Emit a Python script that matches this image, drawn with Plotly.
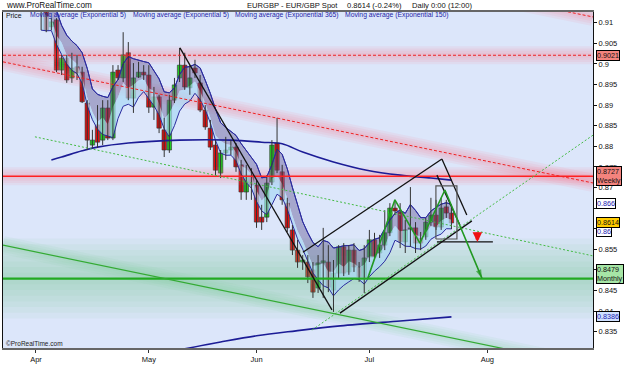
import plotly.graph_objects as go

# ---------------- data ----------------
bars = list(range(1, 82))  # trading-day index, 0 = 1 Apr
opens = [0.9140, 0.9145, 0.9090, 0.9107, 0.8985, 0.9014, 0.8966, 0.8993, 0.8980, 0.8905,
         0.8803, 0.8852, 0.8815, 0.8893, 0.8820, 0.8985, 0.8966, 0.9027, 0.8917, 0.8968,
         0.8980, 0.8973, 0.8895, 0.8920, 0.8840, 0.8791, 0.8912, 0.8966, 0.8997, 0.8942,
         0.8990, 0.8954, 0.8888, 0.8844, 0.8803, 0.8735, 0.8784, 0.8791, 0.8798, 0.8755,
         0.8689, 0.8730, 0.8706, 0.8628, 0.8628, 0.8713, 0.8808, 0.8738, 0.8662, 0.8597,
         0.8548, 0.8519, 0.8519, 0.8500, 0.8456, 0.8517, 0.8519, 0.8451, 0.8492, 0.8556,
         0.8495, 0.8548, 0.8507, 0.8483, 0.8531, 0.8573, 0.8541, 0.8560, 0.8590, 0.8650,
         0.8641, 0.8568, 0.8599, 0.8602, 0.8577, 0.8580, 0.8616, 0.8633, 0.8604, 0.8653,
         0.8638]
highs = [0.9150, 0.9155, 0.9111, 0.9111, 0.9022, 0.9022, 0.9027, 0.9022, 0.8993, 0.8912,
         0.8840, 0.8900, 0.8912, 0.8912, 0.8997, 0.8997, 0.9077, 0.9053, 0.9002, 0.9005,
         0.8997, 0.8997, 0.8944, 0.8925, 0.8869, 0.8925, 0.8966, 0.9039, 0.9027, 0.8997,
         0.9010, 0.8973, 0.8900, 0.8864, 0.8815, 0.8791, 0.8823, 0.8815, 0.8808, 0.8767,
         0.8755, 0.8747, 0.8718, 0.8658, 0.8730, 0.8815, 0.8869, 0.8755, 0.8675, 0.8609,
         0.8573, 0.8536, 0.8536, 0.8519, 0.8536, 0.8602, 0.8560, 0.8524, 0.8560, 0.8565,
         0.8560, 0.8565, 0.8519, 0.8560, 0.8597, 0.8590, 0.8585, 0.8645, 0.8662, 0.8670,
         0.8662, 0.8621, 0.8701, 0.8616, 0.8592, 0.8626, 0.8675, 0.8670, 0.8675, 0.8670,
         0.8650]
lows = [0.9082, 0.9077, 0.9082, 0.8980, 0.8973, 0.8954, 0.8954, 0.8961, 0.8905, 0.8791,
        0.8796, 0.8796, 0.8803, 0.8815, 0.8815, 0.8961, 0.8956, 0.8912, 0.8881, 0.8966,
        0.8961, 0.8881, 0.8864, 0.8832, 0.8774, 0.8784, 0.8905, 0.8956, 0.8937, 0.8925,
        0.8966, 0.8883, 0.8840, 0.8791, 0.8730, 0.8723, 0.8767, 0.8779, 0.8738, 0.8670,
        0.8670, 0.8670, 0.8602, 0.8597, 0.8616, 0.8706, 0.8735, 0.8658, 0.8592, 0.8536,
        0.8505, 0.8500, 0.8468, 0.8432, 0.8444, 0.8432, 0.8446, 0.8398, 0.8480, 0.8485,
        0.8488, 0.8495, 0.8471, 0.8444, 0.8519, 0.8524, 0.8529, 0.8548, 0.8582, 0.8633,
        0.8553, 0.8541, 0.8556, 0.8541, 0.8548, 0.8573, 0.8607, 0.8597, 0.8597, 0.8626,
        0.8599]
closes = [0.9135, 0.9082, 0.9102, 0.8985, 0.9014, 0.8961, 0.8990, 0.8978, 0.8908, 0.8815,
          0.8815, 0.8810, 0.8893, 0.8820, 0.8980, 0.8966, 0.9022, 0.8917, 0.8966, 0.8980,
          0.8973, 0.8895, 0.8920, 0.8844, 0.8791, 0.8912, 0.8949, 0.8997, 0.8944, 0.8966,
          0.8978, 0.8888, 0.8847, 0.8798, 0.8742, 0.8784, 0.8791, 0.8798, 0.8750, 0.8689,
          0.8730, 0.8706, 0.8616, 0.8616, 0.8711, 0.8803, 0.8742, 0.8670, 0.8602, 0.8548,
          0.8519, 0.8524, 0.8483, 0.8446, 0.8517, 0.8522, 0.8458, 0.8492, 0.8556, 0.8492,
          0.8548, 0.8507, 0.8483, 0.8529, 0.8573, 0.8531, 0.8560, 0.8590, 0.8650, 0.8643,
          0.8568, 0.8597, 0.8602, 0.8565, 0.8565, 0.8616, 0.8633, 0.8604, 0.8650, 0.8638,
          0.8614]

month_ticks = [0, 22, 43, 65, 88]
month_labels = ["Apr", "May", "Jun", "Jul", "Aug"]
price_ticks = [0.835, 0.84, 0.845, 0.85, 0.855, 0.86, 0.865, 0.87, 0.875,
               0.88, 0.885, 0.89, 0.895, 0.9, 0.905, 0.91]
# 0.865 and 0.86 are hidden behind the value boxes in the reference
price_tick_text = ["0.835", "0.84", "0.845", "0.85", "0.855", "", "", "0.87", "0.875",
                   "0.88", "0.885", "0.89", "0.895", "0.9", "0.905", "0.91"]

ema150_x = [3, 5, 9, 12, 18, 28, 38, 44, 48, 52, 58, 64.5, 71, 77, 81]
ema150_y = [0.8767, 0.8774, 0.8789, 0.8798, 0.8808, 0.8815, 0.8815, 0.8810, 0.8806,
            0.8786, 0.8762, 0.8742, 0.8730, 0.8723, 0.8718]
ema365_x = [28, 36, 43, 50.7, 59.3, 71, 81]
ema365_y = [0.8306, 0.8325, 0.8340, 0.8352, 0.8364, 0.8376, 0.8386]

top_level = 0.9021
weekly_level = 0.8727
monthly_level = 0.8479

red_diag_x, red_diag_y = [-6.43, 108.6], [0.9005, 0.8711]
red_top_x, red_top_y = [86.5, 108.6], [0.9170, 0.9114]
green_dot_down_x, green_dot_down_y = [-0.2, 108.6], [0.8823, 0.8534]
green_solid_x, green_solid_y = [-6.43, 108.6], [0.8560, 0.8264]
green_dot_up_x, green_dot_up_y = [53.8, 108.6], [0.8354, 0.8827]

black_a_x, black_a_y = [28.07, 57.7], [0.9039, 0.8403]
chan_low_x, chan_low_y = [59.26, 84.99], [0.8395, 0.8619]
chan_up_x, chan_up_y = [52.05, 79.14], [0.8543, 0.8769]
flag1_x, flag1_y = [79.14, 84.0], [0.8769, 0.8633]
flag2_x, flag2_y = [78.17, 82.65], [0.8730, 0.8609]
rect_x, rect_y = [77.97, 82.07], [0.8575, 0.8704]
neck_x, neck_y = [78.17, 89.08], [0.8568, 0.8568]
zig_x = [64.7, 69.98, 74.85, 79.73, 86.94]
zig_y = [0.8480, 0.8670, 0.8565, 0.8694, 0.8480]
red_arrow_x, red_arrow_tip = 86.06, 0.8568

XR = [-6.43, 108.6]
YR = [0.83104, 0.91260]


def ema(values, n=5):
    k = 2 / (n + 1)
    out = [values[0]]
    for v in values[1:]:
        out.append(out[-1] + k * (v - out[-1]))
    return out


ema_hi = ema(highs)
ema_cl = ema(closes)
ema_lo = ema(lows)

fig = go.Figure()


def line(xs, ys, color, width, dash=None, shape="linear"):
    fig.add_trace(go.Scatter(x=xs, y=ys, mode="lines", hoverinfo="skip", showlegend=False,
                             line=dict(color=color, width=width, dash=dash, shape=shape)))


def glow(xs, ys, rgb, spread, steps, alpha):
    for i in range(steps):
        w = 2 * spread * (steps - i) / steps
        line(xs, ys, f"rgba({rgb},{alpha})", w)


# glows
glow(XR, [monthly_level] * 2, "110,200,140", 40, 7, 0.07)
glow(green_solid_x, green_solid_y, "110,200,140", 9, 4, 0.08)
glow(XR, [top_level] * 2, "255,110,130", 9, 4, 0.09)
glow(XR, [weekly_level] * 2, "255,110,130", 9, 4, 0.09)
glow(red_diag_x, red_diag_y, "255,110,130", 9, 4, 0.09)
glow(red_top_x, red_top_y, "255,110,130", 9, 4, 0.09)

# EMA 5 band
line(bars, ema_hi, "#2b2b9e", 1)
fig.add_trace(go.Scatter(x=bars, y=ema_cl, mode="lines", hoverinfo="skip", showlegend=False,
                         line=dict(width=0, color="rgba(0,0,0,0)"), fill="tonexty",
                         fillcolor="rgba(100,90,150,0.45)"))
fig.add_trace(go.Scatter(x=bars, y=ema_lo, mode="lines", hoverinfo="skip", showlegend=False,
                         line=dict(width=1, color="#2b2b9e"), fill="tonexty",
                         fillcolor="rgba(170,215,245,0.7)"))
line(bars, ema_hi, "#2b2b9e", 1)

# long EMAs
line(ema150_x, ema150_y, "#1c1c96", 1.6, shape="spline")
line(ema365_x, ema365_y, "#1c1c96", 1.6, shape="spline")

# candles: wicks + bodies
wick_x, wick_y = [], []
for b, h, l in zip(bars, highs, lows):
    wick_x += [b, b, None]
    wick_y += [l, h, None]
fig.add_trace(go.Scatter(x=wick_x, y=wick_y, mode="lines", hoverinfo="skip", showlegend=False,
                         line=dict(color="#333333", width=1)))
body_base = [min(o, c) for o, c in zip(opens, closes)]
body_h = [max(abs(c - o), 0.00006) for o, c in zip(opens, closes)]
body_col = ["#22cc22" if c >= o else "#e01010" for o, c in zip(opens, closes)]
fig.add_trace(go.Bar(x=bars, y=body_h, base=body_base, width=0.86, hoverinfo="skip",
                     showlegend=False,
                     marker=dict(color=body_col, line=dict(color="#303030", width=0.6))))

# drawn levels / trend lines
line(XR, [top_level] * 2, "#ee2222", 1, dash="3px,2px")
line(XR, [weekly_level] * 2, "#ff2020", 1.5)
line(XR, [monthly_level] * 2, "#22aa22", 2.2)
line(red_diag_x, red_diag_y, "#ee2222", 1, dash="3px,2px")
line(red_top_x, red_top_y, "#ee2222", 1, dash="3px,2px")
line(green_dot_down_x, green_dot_down_y, "#44bb44", 1, dash="2px,2px")
line(green_dot_up_x, green_dot_up_y, "#44bb44", 1, dash="2px,2px")
line(green_solid_x, green_solid_y, "#33aa33", 1.2)

for xs, ys in [(black_a_x, black_a_y), (chan_low_x, chan_low_y), (chan_up_x, chan_up_y),
               (flag1_x, flag1_y), (flag2_x, flag2_y), (neck_x, neck_y)]:
    line(xs, ys, "#111111", 1.3)
line([rect_x[0], rect_x[1], rect_x[1], rect_x[0], rect_x[0]],
     [rect_y[0], rect_y[0], rect_y[1], rect_y[1], rect_y[0]], "#555555", 1.2)

# green zigzag with arrow head
line(zig_x, zig_y, "#229922", 1.6)
fig.add_trace(go.Scatter(x=zig_x[-2:], y=zig_y[-2:], mode="markers", hoverinfo="skip",
                         showlegend=False,
                         marker=dict(symbol="arrow", angleref="previous", size=[0, 9],
                                     color="#229922", line=dict(width=0))))

# red down arrow
fig.add_annotation(x=red_arrow_x, y=red_arrow_tip, xref="x", yref="y", ax=0, ay=-11,
                   showarrow=True, arrowhead=2, arrowsize=0.55, arrowwidth=3.5,
                   arrowcolor="#ee1111", text="")


def px(xp):
    return (xp - 3) / 590


def py(yp):
    return (348 - yp) / 336


FONT = "Liberation Sans, Arial, sans-serif"

# header texts
fig.add_annotation(x=px(4), y=py(5.5), xref="paper", yref="paper", text="www.ProRealTime.com",
                   showarrow=False, xanchor="left", yanchor="middle",
                   font=dict(family=FONT, size=8.2, color="#111"))
for txt, xl in [("EURGBP - EUR/GBP Spot", 245), ("0.8614 (-0.24%)", 345),
                ("Daily 0:00 (12:00)", 410)]:
    fig.add_annotation(x=px(xl), y=py(5.5), xref="paper", yref="paper", text=txt,
                       showarrow=False, xanchor="left", yanchor="middle",
                       font=dict(family=FONT, size=7.6, color="#111"))

fig.add_annotation(x=px(4), y=py(15.5), xref="paper", yref="paper", text="Price",
                   showarrow=False, xanchor="left", yanchor="middle",
                   font=dict(family=FONT, size=6.8, color="#111"))
for txt, xl in [("Moving average (Exponential 5)", 28), ("Moving average (Exponential 5)", 131),
                ("Moving average (Exponential 365)", 233),
                ("Moving average (Exponential 150)", 343)]:
    fig.add_annotation(x=px(xl), y=py(15.5), xref="paper", yref="paper", text=txt,
                       showarrow=False, xanchor="left", yanchor="middle",
                       font=dict(family=FONT, size=6.8, color="#1f1fa8"))

fig.add_annotation(x=px(4), y=py(343), xref="paper", yref="paper", text="©ProRealTime.com",
                   showarrow=False, xanchor="left", yanchor="middle",
                   font=dict(family=FONT, size=6.5, color="#222"))

# right-hand value labels
labels = [
    (top_level, "0.9021", "#f4837d", "#111", 0),
    (weekly_level, "0.8727<br>Weekly", "#f4837d", "#111", 0),
    (0.866, "0.866", "#ffffff", "#1a1ab0", 0),
    (0.86, "0.86", "#ffffff", "#1a1ab0", -3),
    (0.8614, "0.8614", "#ffcc00", "#111", 0),
    (monthly_level, "0.8479<br>Monthly", "#a6e6a6", "#111", 5),
    (0.8386, "0.8386", "#cfe0ff", "#1a1ab0", 0),
]
for val, txt, bg, fg, ys in labels:
    fig.add_annotation(x=px(596), y=val, xref="paper", yref="y", text=txt, showarrow=False,
                       xanchor="left", yanchor="middle", yshift=ys, align="left",
                       bgcolor=bg, bordercolor="#000", borderwidth=1, borderpad=0,
                       font=dict(family=FONT, size=7.2, color=fg))

fig.update_layout(
    width=625, height=375,
    margin=dict(l=3, r=32, t=12, b=27),
    paper_bgcolor="#ffffff", plot_bgcolor="#dce6fa",
    hovermode=False, showlegend=False, barmode="overlay",
    xaxis=dict(range=XR, tickvals=month_ticks,
               ticktext=month_labels, ticks="outside", ticklen=3, tickcolor="#333",
               showgrid=False, zeroline=False, showline=True, linecolor="#666",
               linewidth=1.5, mirror=True, tickfont=dict(family=FONT, size=7.5, color="#111")),
    yaxis=dict(range=YR, side="right", tickvals=price_ticks, ticktext=price_tick_text,
               ticks="outside", ticklen=3, tickcolor="#111", showgrid=False, zeroline=False,
               showline=True, linecolor="#111", linewidth=1, mirror=True,
               tickfont=dict(family=FONT, size=7.5, color="#111")),
)

fig.write_html("out.html", config={"displayModeBar": False})
